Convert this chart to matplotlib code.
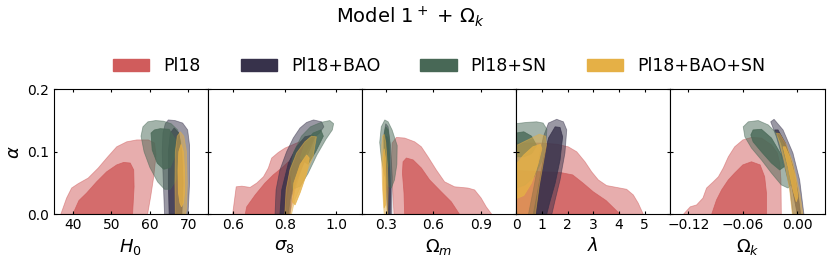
import matplotlib
matplotlib.use('Agg')
import matplotlib.pyplot as plt
from matplotlib.patches import Patch

# datasets, legend order = drawing order
labels = ['Pl18', 'Pl18+BAO', 'Pl18+SN', 'Pl18+BAO+SN']
colors = ['#d05c5c', '#37324b', '#486856', '#e5b046']

# y axis (alpha) shared by all panels
alpha_ticks = [0.0, 0.1, 0.2]

# panel x variables and ticks
xlabels = [r'$H_0$', r'$\sigma_8$', r'$\Omega_m$', r'$\lambda$', r'$\Omega_k$']
xlims = [(35, 75), (0.5, 1.1), (0.15, 1.12), (0, 6), (-0.14, 0.03)]
xticks = [[40, 50, 60, 70], [0.6, 0.8, 1.0], [0.3, 0.6, 0.9],
          [0, 1, 2, 3, 4, 5], [-0.12, -0.06, 0.00]]
xticklabels = [['40', '50', '60', '70'], ['0.6', '0.8', '1.0'], ['0.3', '0.6', '0.9'],
               ['0', '1', '2', '3', '4', '5'], ['\u22120.12', '\u22120.06', '0.00']]

# contour outlines: (x values, alpha values)
# 95% (outer) and 68% (inner) regions for every dataset

# --- H0 vs alpha
h0_pl18_95 = ([36.9, 38.4, 39.7, 41.4, 44.0, 46.6, 48.8, 51.4, 54.0, 56.6, 59.6, 61.2, 61.6, 61.0, 60.2, 59.4],
              [0, 0.026, 0.042, 0.049, 0.058, 0.074, 0.090, 0.108, 0.116, 0.119, 0.119, 0.114, 0.095, 0.060, 0.028, 0])
h0_pl18_68 = ([40.0, 41.6, 43.6, 46.2, 48.8, 51.4, 53.2, 54.9, 55.8, 55.9, 55.5],
              [0, 0.022, 0.034, 0.052, 0.068, 0.079, 0.083, 0.082, 0.071, 0.044, 0])
h0_bao_95 = ([63.8, 63.5, 63.2, 63.4, 64.0, 64.8, 66.5, 68.5, 69.8, 70.3, 70.3, 69.9],
             [0, 0.05, 0.10, 0.13, 0.145, 0.151, 0.150, 0.146, 0.135, 0.11, 0.05, 0])
h0_bao_68 = ([65.0, 64.8, 64.8, 65.3, 66.3, 67.5, 68.3, 68.6, 68.3],
             [0, 0.05, 0.10, 0.13, 0.138, 0.13, 0.10, 0.05, 0])
h0_sn_95 = ([57.7, 58.2, 59.5, 61.5, 63.5, 65.5, 67.2, 68.0, 67.8, 66.8, 65.3, 63.8, 62.0, 60.0, 58.5],
            [0.125, 0.14, 0.148, 0.15, 0.149, 0.145, 0.135, 0.115, 0.085, 0.055, 0.040, 0.040, 0.052, 0.075, 0.10])
h0_sn_68 = ([60.3, 61.2, 62.7, 65.0, 66.6, 66.6, 65.3, 63.6, 61.9, 60.6],
            [0.13, 0.135, 0.137, 0.136, 0.12, 0.095, 0.075, 0.072, 0.082, 0.103])
h0_baosn_95 = ([66.6, 66.5, 66.6, 67.1, 67.9, 68.8, 69.5, 69.7, 69.5, 69.3],
               [0, 0.05, 0.10, 0.125, 0.132, 0.125, 0.10, 0.05, 0.01, 0])
h0_baosn_68 = ([67.8, 67.4, 67.3, 67.5, 68.1, 68.7, 69.0, 69.0, 68.7, 68.2],
               [0.018, 0.035, 0.07, 0.10, 0.112, 0.10, 0.07, 0.035, 0.018, 0.012])

# --- sigma8 vs alpha
s8_pl18_95 = ([0.597, 0.611, 0.633, 0.665, 0.691, 0.717, 0.736, 0.749, 0.775, 0.801, 0.846, 0.885, 0.915, 0.905, 0.87, 0.84, 0.82],
              [0, 0.044, 0.045, 0.043, 0.050, 0.060, 0.074, 0.090, 0.099, 0.106, 0.114, 0.12, 0.122, 0.11, 0.08, 0.04, 0])
s8_pl18_68 = ([0.646, 0.652, 0.685, 0.723, 0.755, 0.788, 0.814, 0.83, 0.825, 0.81, 0.80],
              [0, 0.012, 0.031, 0.050, 0.063, 0.074, 0.084, 0.08, 0.06, 0.03, 0])
s8_bao_95 = ([0.762, 0.766, 0.781, 0.807, 0.833, 0.859, 0.885, 0.912, 0.943, 0.952, 0.935, 0.917, 0.885, 0.846, 0.826, 0.82],
             [0, 0.039, 0.071, 0.10, 0.122, 0.138, 0.147, 0.151, 0.148, 0.14, 0.13, 0.124, 0.092, 0.055, 0.028, 0])
s8_bao_68 = ([0.781, 0.788, 0.814, 0.846, 0.878, 0.91, 0.91, 0.872, 0.839, 0.82, 0.814],
             [0, 0.039, 0.082, 0.108, 0.124, 0.127, 0.119, 0.092, 0.055, 0.023, 0])
s8_sn_95 = ([0.83, 0.82, 0.835, 0.865, 0.90, 0.94, 0.975, 0.99, 0.985, 0.96, 0.925, 0.89, 0.86],
            [0.04, 0.07, 0.10, 0.125, 0.14, 0.147, 0.15, 0.145, 0.135, 0.12, 0.095, 0.065, 0.045])
s8_sn_68 = ([0.86, 0.88, 0.91, 0.94, 0.95, 0.92, 0.89],
            [0.09, 0.115, 0.13, 0.135, 0.125, 0.10, 0.08])
s8_baosn_95 = ([0.80, 0.805, 0.82, 0.846, 0.878, 0.904, 0.923, 0.910, 0.872, 0.839, 0.826],
               [0, 0.039, 0.071, 0.098, 0.116, 0.125, 0.124, 0.092, 0.055, 0.023, 0])
s8_baosn_68 = ([0.83, 0.835, 0.86, 0.885, 0.895, 0.885, 0.86, 0.84],
               [0.02, 0.05, 0.08, 0.095, 0.09, 0.065, 0.035, 0.015])

# --- Omega_m vs alpha
om_pl18_95 = ([0.352, 0.34, 0.336, 0.34, 0.367, 0.419, 0.482, 0.524, 0.566, 0.618, 0.670, 0.733, 0.817, 0.859, 0.90, 0.932, 0.967],
              [0, 0.055, 0.087, 0.114, 0.123, 0.122, 0.116, 0.108, 0.092, 0.071, 0.052, 0.044, 0.042, 0.039, 0.026, 0.012, 0])
om_pl18_68 = ([0.419, 0.415, 0.405, 0.409, 0.43, 0.472, 0.524, 0.576, 0.649, 0.712, 0.764],
              [0, 0.034, 0.066, 0.084, 0.090, 0.087, 0.074, 0.055, 0.036, 0.020, 0])
om_bao_95 = ([0.31, 0.30, 0.29, 0.29, 0.30, 0.315, 0.33, 0.34, 0.338],
             [0, 0.05, 0.10, 0.13, 0.145, 0.14, 0.11, 0.06, 0])
om_bao_68 = ([0.315, 0.305, 0.30, 0.305, 0.315, 0.325, 0.33, 0.328],
             [0, 0.05, 0.10, 0.125, 0.12, 0.09, 0.04, 0])
om_sn_95 = ([0.294, 0.315, 0.34, 0.372, 0.37, 0.355, 0.335, 0.315, 0.29, 0.272, 0.262, 0.272],
            [0.151, 0.148, 0.135, 0.11, 0.08, 0.055, 0.042, 0.045, 0.065, 0.09, 0.115, 0.14])
om_sn_68 = ([0.30, 0.315, 0.325, 0.325, 0.315, 0.30, 0.29, 0.288],
            [0.14, 0.135, 0.115, 0.09, 0.075, 0.08, 0.10, 0.125])
om_baosn_95 = ([0.29, 0.28, 0.275, 0.275, 0.28, 0.29, 0.30, 0.31, 0.315, 0.312],
               [0, 0.04, 0.08, 0.11, 0.125, 0.128, 0.115, 0.08, 0.04, 0])
om_baosn_68 = ([0.29, 0.283, 0.283, 0.29, 0.298, 0.302, 0.298],
               [0.01, 0.05, 0.09, 0.105, 0.09, 0.05, 0.015])

# --- lambda vs alpha
lam_pl18_95 = ([0, 0, 1.0, 1.6, 2.03, 2.36, 2.68, 2.94, 3.2, 3.52, 3.91, 4.3, 4.56, 4.75, 4.95],
               [0, 0.114, 0.114, 0.112, 0.108, 0.100, 0.084, 0.068, 0.055, 0.046, 0.043, 0.040, 0.031, 0.018, 0])
lam_pl18_68 = ([0, 0, 1.0, 1.7, 2.2, 2.6, 3.0, 3.5, 3.8, 4.05],
               [0, 0.07, 0.068, 0.067, 0.063, 0.05, 0.036, 0.022, 0.01, 0])
lam_bao_95 = ([0.48, 0.67, 0.87, 1.06, 1.26, 1.58, 1.84, 1.97, 1.9, 1.71, 1.52, 1.39],
              [0, 0.039, 0.082, 0.124, 0.146, 0.152, 0.148, 0.135, 0.098, 0.055, 0.023, 0])
lam_bao_68 = ([0.67, 0.87, 1.06, 1.26, 1.52, 1.71, 1.81, 1.71, 1.52, 1.3, 1.19],
              [0, 0.044, 0.087, 0.122, 0.14, 0.139, 0.124, 0.087, 0.050, 0.018, 0])
lam_sn_95 = ([0, 0, 0.4, 0.8, 1.05, 1.2, 1.15, 1.0, 0.7, 0.35],
             [0.042, 0.145, 0.147, 0.148, 0.146, 0.136, 0.11, 0.085, 0.06, 0.047])
lam_sn_68 = ([0, 0, 0.3, 0.6, 0.8, 0.6, 0.3],
             [0.092, 0.13, 0.132, 0.125, 0.11, 0.097, 0.092])
lam_baosn_95 = ([0, 0, 0.5, 0.9, 1.15, 1.18, 1.05, 0.9, 0.75],
                [0, 0.11, 0.12, 0.128, 0.125, 0.11, 0.08, 0.045, 0])
lam_baosn_68 = ([0, 0, 0.3, 0.65, 0.95, 1.0, 0.85, 0.6, 0.3],
                [0.025, 0.08, 0.095, 0.108, 0.112, 0.105, 0.08, 0.05, 0.03])

# --- Omega_k vs alpha
ok_pl18_95 = ([-0.1255, -0.118, -0.111, -0.104, -0.10, -0.0926, -0.087, -0.0816, -0.076, -0.069, -0.06, -0.0505,
               -0.0395, -0.0285, -0.022, -0.0194, -0.018, -0.0176],
              [0, 0.012, 0.015, 0.026, 0.042, 0.052, 0.060, 0.074, 0.092, 0.108, 0.119, 0.123,
               0.122, 0.111, 0.098, 0.082, 0.055, 0])
ok_pl18_68 = ([-0.0944, -0.089, -0.0834, -0.076, -0.069, -0.06, -0.0505, -0.041, -0.036, -0.034, -0.034],
              [0, 0.023, 0.039, 0.055, 0.066, 0.079, 0.084, 0.079, 0.060, 0.034, 0])
ok_bao_95 = ([-0.0048, -0.0084, -0.0157, -0.023, -0.0293, -0.0256, -0.0157, -0.0048, 0.0026, 0.0073],
             [0, 0.044, 0.087, 0.124, 0.148, 0.152, 0.135, 0.098, 0.055, 0])
ok_bao_68 = ([-0.0249, -0.0176, -0.0095, -0.003, 0.0, 0.0037, 0.0007, -0.0048, -0.0132, -0.0212],
             [0.135, 0.114, 0.071, 0.023, 0, 0, 0.034, 0.076, 0.114, 0.135])
ok_sn_95 = ([-0.0596, -0.054, -0.043, -0.032, -0.021, -0.0102, -0.0048, -0.0048, -0.0102, -0.0176, -0.0285,
             -0.0395, -0.0505, -0.0578],
            [0.140, 0.148, 0.150, 0.143, 0.127, 0.098, 0.071, 0.050, 0.042, 0.047, 0.066, 0.087, 0.106, 0.124])
ok_sn_68 = ([-0.0487, -0.0395, -0.0285, -0.0176, -0.0146, -0.0194, -0.0285, -0.0395, -0.0487, -0.0512],
            [0.135, 0.136, 0.122, 0.095, 0.076, 0.071, 0.082, 0.100, 0.116, 0.127])
ok_baosn_95 = ([-0.023, -0.0194, -0.0139, -0.0084, -0.0055, 0.0062, 0.0026, -0.0048, -0.012, -0.0194],
               [0.130, 0.114, 0.082, 0.039, 0, 0, 0.034, 0.082, 0.111, 0.129])
ok_baosn_68 = ([-0.0157, -0.0102, -0.0048, -0.0011, 0.0007, -0.0022, -0.0084, -0.0132],
               [0.108, 0.076, 0.039, 0.020, 0.028, 0.060, 0.092, 0.108])

panels = [
    [(h0_pl18_95, h0_pl18_68), (h0_bao_95, h0_bao_68), (h0_sn_95, h0_sn_68), (h0_baosn_95, h0_baosn_68)],
    [(s8_pl18_95, s8_pl18_68), (s8_bao_95, s8_bao_68), (s8_sn_95, s8_sn_68), (s8_baosn_95, s8_baosn_68)],
    [(om_pl18_95, om_pl18_68), (om_bao_95, om_bao_68), (om_sn_95, om_sn_68), (om_baosn_95, om_baosn_68)],
    [(lam_pl18_95, lam_pl18_68), (lam_bao_95, lam_bao_68), (lam_sn_95, lam_sn_68), (lam_baosn_95, lam_baosn_68)],
    [(ok_pl18_95, ok_pl18_68), (ok_bao_95, ok_bao_68), (ok_sn_95, ok_sn_68), (ok_baosn_95, ok_baosn_68)],
]

fig, axes = plt.subplots(1, 5, figsize=(8.31, 2.63), dpi=100, sharey=True,
                         gridspec_kw=dict(wspace=0))
fig.subplots_adjust(left=53.5 / 831, right=824.5 / 831, bottom=1 - 214.3 / 263, top=1 - 89.3 / 263)

for i, ax in enumerate(axes):
    for (outer, inner), c in zip(panels[i], colors):
        ax.fill(outer[0], outer[1], color=c, alpha=0.5, lw=0.6)
        ax.fill(inner[0], inner[1], color=c, alpha=0.8, lw=0.6)
    ax.set_xlim(*xlims[i])
    ax.set_ylim(0, 0.2)
    ax.set_xticks(xticks[i])
    ax.set_xticklabels(xticklabels[i])
    ax.set_yticks(alpha_ticks)
    ax.tick_params(direction='in', top=True, right=True, length=2.5, labelsize=10, pad=3)
    ax.set_xlabel(xlabels[i], fontsize=13)
    ax.xaxis.set_label_coords(0.5, -0.18)

axes[0].set_yticklabels(['0.0', '0.1', '0.2'])
axes[0].set_ylabel(r'$\alpha$', fontsize=13)
axes[0].yaxis.set_label_coords(-0.20, 0.5)

handles = [Patch(facecolor=c, edgecolor=c) for c in colors]
fig.legend(handles, labels, loc='center', bbox_to_anchor=(439 / 831, 1 - 66 / 263), ncol=4,
           frameon=False, fontsize=12.5, handlelength=2.1, handleheight=0.75,
           handletextpad=0.8, columnspacing=2.3)

fig.text(0.494, 1 - 23.3 / 263, r'Model $1^+$ + $\Omega_k$', ha='center', va='baseline', fontsize=14)

plt.savefig('out.png', dpi=100)
